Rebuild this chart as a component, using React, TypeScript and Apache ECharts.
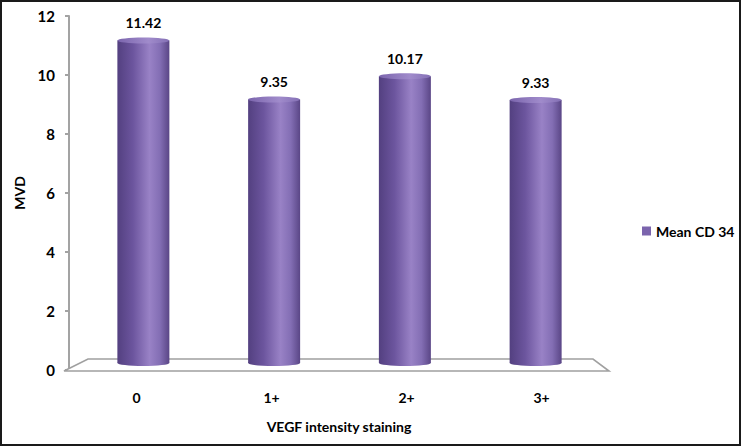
import React, { useEffect, useRef } from "react";
import * as echarts from "echarts";

const categories = ["0", "1+", "2+", "3+"];
const meanCD34 = [11.42, 9.35, 10.17, 9.33];
const seriesName = "Mean CD 34";
const yTicks = { min: 0, max: 12, interval: 2 };

const FONT = "Lato";

export default function App() {
  const ref = useRef<HTMLDivElement>(null);

  useEffect(() => {
    if (!ref.current) return;
    const chart = echarts.init(ref.current, undefined, { renderer: "svg" });

    const bodyGradient = () =>
      new echarts.graphic.LinearGradient(0, 0, 1, 0, [
        { offset: 0, color: "#534080" },
        { offset: 0.3, color: "#6c559e" },
        { offset: 0.62, color: "#9982c6" },
        { offset: 0.82, color: "#836eb4" },
        { offset: 1, color: "#5a4686" },
      ]);
    const topGradient = () =>
      new echarts.graphic.LinearGradient(0, 0, 1, 0, [
        { offset: 0, color: "#7b65ad" },
        { offset: 0.6, color: "#a08bcb" },
        { offset: 1, color: "#8470b5" },
      ]);

    const option: any = {
      animation: false,
      backgroundColor: "#ffffff",
      textStyle: { fontFamily: FONT },
      grid: [
        { left: 69, right: 132, top: 16, bottom: 77 },
        { left: 78, right: 140, top: 24, bottom: 81 },
      ],
      legend: {
        data: [{ name: seriesName, icon: "rect", itemStyle: { color: "#7b64ad" } }],
        left: 637,
        top: 219,
        itemWidth: 9,
        itemHeight: 9,
        textStyle: { fontFamily: FONT, fontWeight: "bold", fontSize: 14, color: "#000" },
      },
      xAxis: [
        {
          type: "category",
          gridIndex: 0,
          data: categories,
          axisLine: { show: false },
          axisTick: { show: false },
          axisLabel: { margin: 20, fontFamily: FONT, fontWeight: "bold", fontSize: 14, color: "#000" },
          name: "VEGF intensity staining",
          nameLocation: "middle",
          nameGap: 49,
          nameTextStyle: { fontFamily: FONT, fontWeight: "bold", fontSize: 14, color: "#000" },
        },
        { type: "category", gridIndex: 1, data: categories, show: false },
      ],
      yAxis: [
        {
          type: "value",
          gridIndex: 0,
          min: yTicks.min,
          max: yTicks.max,
          interval: yTicks.interval,
          axisLine: { show: true, lineStyle: { color: "#a3a3a3", width: 2 } },
          axisTick: { show: true, length: 4, lineStyle: { color: "#a3a3a3", width: 2 } },
          axisLabel: { margin: 14, fontFamily: FONT, fontWeight: "bold", fontSize: 15, color: "#000" },
          splitLine: { show: false },
          name: "MVD",
          nameLocation: "middle",
          nameGap: 39,
          nameRotate: 90,
          nameTextStyle: { fontFamily: FONT, fontWeight: "bold", fontSize: 14, color: "#000" },
        },
        { type: "value", gridIndex: 1, min: yTicks.min, max: yTicks.max, show: false },
      ],
      series: [
        {
          type: "custom",
          name: "floor",
          xAxisIndex: 0,
          yAxisIndex: 0,
          silent: true,
          z: 1,
          data: [[0, 0]],
          renderItem: (params: any) => {
            const cs = params.coordSys;
            const bx = cs.y + cs.height;
            return {
              type: "polygon",
              shape: {
                points: [
                  [cs.x - 5, bx + 1],
                  [cs.x + 19, bx - 11],
                  [cs.x + cs.width - 16, bx - 11],
                  [cs.x + cs.width, bx + 1],
                ],
              },
              style: { fill: "#ffffff", stroke: "#a0a0a0", lineWidth: 1.6 },
            };
          },
        },
        {
          type: "custom",
          name: seriesName,
          xAxisIndex: 1,
          yAxisIndex: 1,
          z: 2,
          itemStyle: { color: "#7b64ad" },
          encode: { x: 0, y: 1 },
          data: meanCD34.map((v, i) => [i, v]),
          renderItem: (params: any, api: any) => {
            const i = api.value(0);
            const v = api.value(1);
            const top = api.coord([i, v]);
            const base = api.coord([i, 0]);
            const w = 52;
            const ry = 3;
            const cx = top[0];
            const topY = top[1];
            const baseY = base[1] - 3;
            return {
              type: "group",
              children: [
                {
                  type: "ellipse",
                  shape: { cx, cy: baseY, rx: w / 2, ry },
                  style: { fill: bodyGradient() },
                },
                {
                  type: "rect",
                  shape: { x: cx - w / 2, y: topY, width: w, height: baseY - topY },
                  style: { fill: bodyGradient() },
                },
                {
                  type: "ellipse",
                  shape: { cx, cy: topY, rx: w / 2, ry },
                  style: { fill: topGradient() },
                },
                {
                  type: "text",
                  style: {
                    x: cx,
                    y: topY - 18,
                    text: v.toFixed(2),
                    align: "center",
                    verticalAlign: "middle",
                    fontFamily: FONT,
                    fontWeight: "bold",
                    fontSize: 14,
                    fill: "#000",
                  },
                },
              ],
            };
          },
        },
      ],
      graphic: [
        {
          type: "rect",
          silent: true,
          z: 100,
          shape: { x: 1, y: 1, width: 739, height: 444 },
          style: { fill: "none", stroke: "#1a1a1a", lineWidth: 2 },
        },
      ],
    };

    chart.setOption(option);
    return () => chart.dispose();
  }, []);

  return (
    <div
      ref={ref}
      style={{ position: "absolute", left: 0, top: 0, width: 741, height: 447 }}
    />
  );
}
